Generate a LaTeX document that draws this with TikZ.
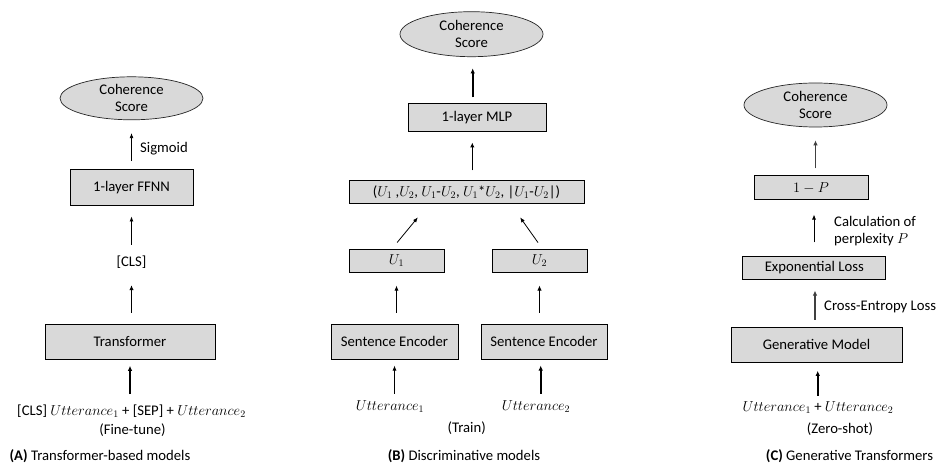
\documentclass[tikz,border=0pt]{standalone}
\usepackage{fontspec}
\setmainfont{Carlito}
\usetikzlibrary{shapes.geometric,arrows.meta}
\definecolor{boxgray}{HTML}{D9D9D9}
\begin{document}
\begin{tikzpicture}[x=1pt,y=-1pt,
  every node/.style={font=\fontsize{14.7}{17}\selectfont, inner sep=0pt, text=black},
  gbox/.style={draw=black, line width=1pt, fill=boxgray, rectangle},
  gell/.style={draw=black!85, line width=0.7pt, fill=boxgray, ellipse, align=center},
  txt/.style={text height=10pt, text depth=3pt},
  thinarr/.style={line width=0.8pt, -{Latex[length=5pt,width=4pt]}},
  thickarr/.style={line width=1.6pt, -{Latex[length=5pt,width=4.5pt]}},
  midarr/.style={line width=1.2pt, draw=black!75, -{Latex[length=5pt,width=4.5pt]}}
]
\useasboundingbox[fill=white] (0,0) rectangle (939,465);

% ---------------- Panel A ----------------
\node[gell, minimum width=143pt, minimum height=43pt] (ellA) at (131.5,98.3) {Coherence\\Score};
\node[gbox, minimum width=123pt, minimum height=35.7pt] (ffnn) at (131.5,187.8) {1-layer FFNN};
\node[txt] (cls) at (131.5,263) {[CLS]};
\node[gbox, minimum width=170pt, minimum height=35pt] (trans) at (130,341.8) {Transformer};
\node[txt] (inA) at (131.5,411.7) {[CLS] $Utterance_1$ + [SEP] + $Utterance_2$};
\node[txt] (ftA) at (132.5,430.7) {(Fine-tune)};
\node[txt] (capA) at (100,456.7) {\textbf{(A)} Transformer-based models};
\node[txt, anchor=west] (sigA) at (140,149) {Sigmoid};

\draw[thickarr, shorten <=11pt, shorten >=6pt] (trans.south |- inA.north) -- (trans.south);
\draw[thickarr, shorten <=11pt, shorten >=15.5pt] (cls.south |- trans.north) -- (cls.south);
\draw[thinarr, shorten <=11.5pt, shorten >=10.3pt] (ffnn.south |- cls.north) -- (ffnn.south);
\draw[thinarr, shorten <=8.3pt, shorten >=13pt] (ellA.south |- ffnn.north) -- (ellA.south);

% ---------------- Panel B ----------------
\node[gell, minimum width=143pt, minimum height=45pt] (ellB) at (471.5,34.2) {Coherence\\Score};
\node[gbox, minimum width=138pt, minimum height=28pt] (mlp) at (477,118) {1-layer MLP};
\node[gbox, minimum width=235pt, minimum height=22pt] (tup) at (466.5,192)
  {($U_1$ ,$U_2$, $U_1$-$U_2$, $U_1$*$U_2$, \textbar$U_1$-$U_2$\textbar)};
\node[gbox, minimum width=95pt, minimum height=23pt] (u1) at (396.5,260.5) {$U_1$};
\node[gbox, minimum width=95pt, minimum height=23pt] (u2) at (539.5,260.5) {$U_2$};
\node[gbox, minimum width=127pt, minimum height=35pt] (se1) at (394.5,341.5) {Sentence Encoder};
\node[gbox, minimum width=126pt, minimum height=35pt] (se2) at (544,341.5) {Sentence Encoder};
\node[txt] (utt1) at (390,407) {$Utterance_1$};
\node[txt] (utt2) at (536,407) {$Utterance_2$};
\node[txt] (trB) at (466.7,429) {(Train)};
\node[txt] (capB) at (464,456.7) {\textbf{(B)} Discriminative models};

\draw[thickarr, shorten <=6pt, shorten >=11.3pt] ([xshift=-4.3pt]mlp.north) -- ([xshift=-4.3pt]mlp.north |- ellB.south);
\draw[thickarr, shorten <=10pt, shorten >=10pt] ([xshift=5.8pt]tup.north) -- ([xshift=-4.7pt]mlp.south);
\draw[thinarr, shorten <=7.7pt, shorten >=18pt] ([xshift=-4.3pt]u1.north) -- ([xshift=-37.2pt]tup.south);
\draw[thinarr, shorten <=7.3pt, shorten >=17pt] ([xshift=2.7pt]u2.north) -- ([xshift=43.8pt]tup.south);
\draw[thinarr, shorten <=11pt, shorten >=13pt] (u1.south |- se1.north) -- (u1.south);
\draw[thickarr, shorten <=11pt, shorten >=13pt] (u2.south |- se2.north) -- (u2.south);
\draw[thinarr, shorten <=6.5pt, shorten >=6pt] (se1.south |- utt1.north) -- (se1.south);
\draw[thickarr, shorten <=6.5pt, shorten >=6pt] ([xshift=-3.3pt]se2.south |- utt2.north) -- ([xshift=-3.3pt]se2.south);

% ---------------- Panel C ----------------
\node[gell, minimum width=143pt, minimum height=44pt] (ellC) at (815.5,105) {Coherence\\Score};
\node[gbox, minimum width=114pt, minimum height=24pt] (oneP) at (811,188) {$1-P$};
\node[gbox, minimum width=143.3pt, minimum height=23.3pt] (expl) at (814.3,267.7) {Exponential Loss};
\node[gbox, minimum width=171pt, minimum height=35pt] (gen) at (816.5,344.5) {Generative Model};
\node[txt] (inC) at (818,408) {$Utterance_1$ + $Utterance_2$};
\node[txt] (zsC) at (840,430) {(Zero-shot)};
\node[txt] (capC) at (849.5,456.7) {\textbf{(C)} Generative Transformers};
\node[anchor=west, align=left] (calcC) at (834,231) {Calculation of\\perplexity $P$};
\node[txt, anchor=west] (ceC) at (824,306.7) {Cross-Entropy Loss};

\draw[midarr, shorten <=7pt, shorten >=13pt] (ellC.south |- oneP.north) -- (ellC.south);
\draw[thinarr, shorten <=13.3pt, shorten >=14pt] ([xshift=3pt]oneP.south |- expl.north) -- ([xshift=3pt]oneP.south);
\draw[midarr, shorten <=6.7pt, shorten >=10.7pt] ([xshift=0.7pt]expl.south |- gen.north) -- ([xshift=0.7pt]expl.south);
\draw[thickarr, shorten <=5.5pt, shorten >=8.3pt] ([xshift=1.2pt]gen.south |- inC.north) -- ([xshift=1.2pt]gen.south);
\end{tikzpicture}
\end{document}
